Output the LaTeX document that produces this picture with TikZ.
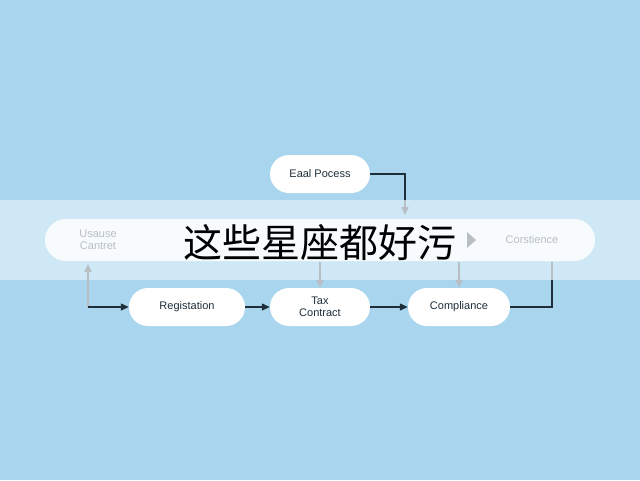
\documentclass[tikz,border=0pt]{standalone}
\usepackage{fontspec}
\setmainfont{Liberation Sans}
\newfontfamily\cjk{Noto Sans CJK SC}
\usetikzlibrary{arrows.meta,positioning}
\definecolor{skyblue}{HTML}{A9D6EE}
\definecolor{darkline}{HTML}{1F2F3A}
\definecolor{fadeline}{HTML}{B8BEC4}
\tikzset{
  stage/.style={fill=white,rounded corners=19pt,minimum height=38pt,align=center,font=\fontsize{11}{12}\selectfont,text=darkline},
  flow/.style={darkline,line width=1.3pt,-{Triangle[length=8pt,width=7pt]}},
  fade/.style={fadeline,line width=1.3pt,-{Triangle[length=8pt,width=7pt]}},
}
\begin{document}
\begin{tikzpicture}[x=1pt,y=-1pt]
\fill[skyblue] (0,0) rectangle (640,480);
\useasboundingbox (0,0) rectangle (640,480);
% faded band
\fill[white,opacity=0.45] (0,200) rectangle (640,280);
\node[stage,minimum width=550pt,minimum height=42pt,rounded corners=21pt,fill opacity=0.85] (band) at (320,240) {};
\node[text=fadeline,align=center,font=\fontsize{11}{12}\selectfont] (usause) at (98,240) {Usause\\Cantret};
\node[text=fadeline,font=\fontsize{11}{12}\selectfont] (corst) at (532,240) {Corstience};
\fill[fadeline] (467,232) -- (476,240) -- (467,248) -- cycle;
% top row
\node[stage,minimum width=100pt] (eaal) at (320,174) {Eaal Pocess};
% bottom row
\node[stage,minimum width=116pt] (reg) at (187,307) {Registation};
\node[stage,minimum width=100pt] (tax) at (320,307) {Tax\\Contract};
\node[stage,minimum width=102pt] (comp) at (459,307) {Compliance};
\coordinate (c1) at (405,215);
\coordinate (c2) at (88,307);
\coordinate (c3) at (88,264);
\coordinate (c4) at (552,307);
\coordinate (c5) at (552,262);
\coordinate (c6) at (320,262);
\coordinate (c7) at (459,262);
\draw[darkline,line width=1.3pt] (eaal.east) -| (405,200);
\draw[fade] (405,200) -- (c1);
\draw[fade] (c2) -- (c3);
\draw[flow] (c2) -- (reg.west);
\draw[flow] (reg) -- (tax);
\draw[flow] (tax) -- (comp);
\draw[darkline,line width=1.3pt] (comp.east) -| (552,280);
\draw[fadeline,line width=1.3pt] (552,280) -- (c5);
\draw[fade] (c6) -- (tax.north);
\draw[fade] (c7) -- (comp.north);
% overlay caption
\node[font=\cjk\fontsize{39}{41}\selectfont] (cap) at (320,243) {这些星座都好污};
\end{tikzpicture}
\end{document}
